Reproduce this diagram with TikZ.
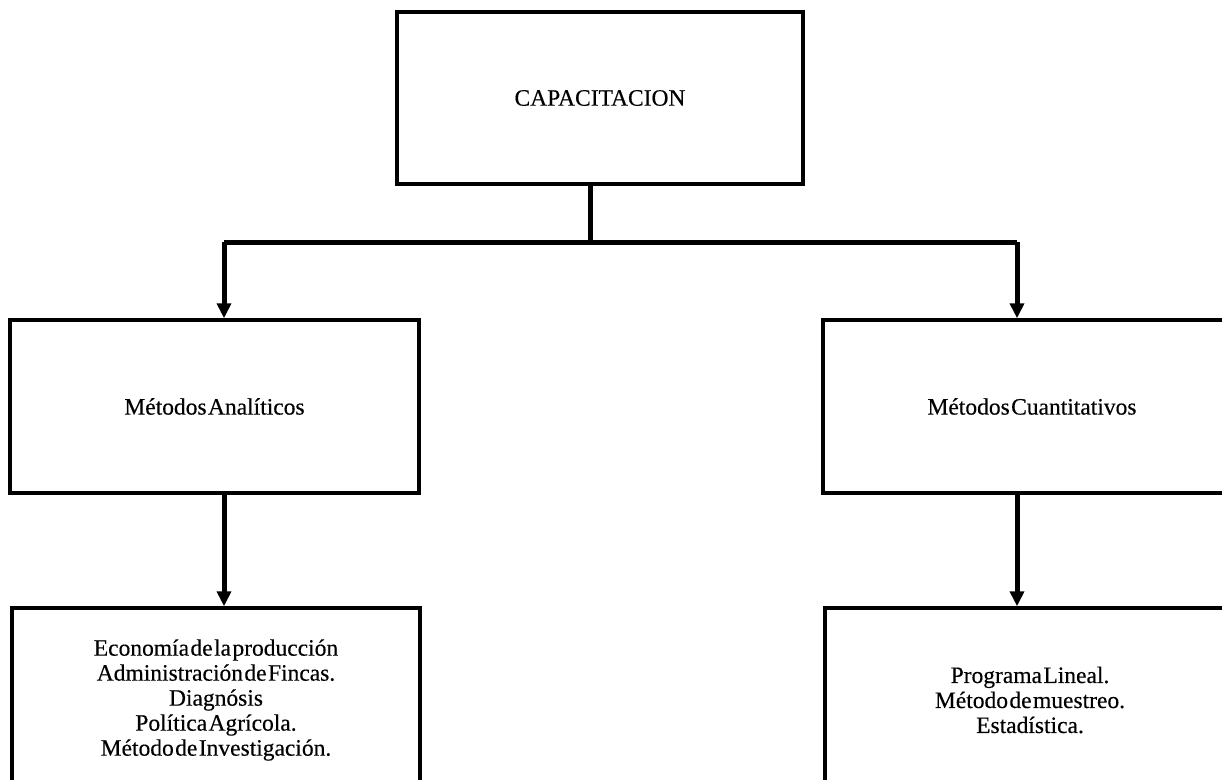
\documentclass[tikz,border=0pt]{standalone}
\usepackage{fontspec}
\setmainfont{Liberation Serif}
\newfontfamily\scanfont[FakeBold=0.35]{Liberation Serif}
\usetikzlibrary{arrows.meta,calc}
\newcommand{\boxfont}{\scanfont\fontsize{23.5}{25}\selectfont\spaceskip=0.06em plus 0pt\relax}
\begin{document}
\begin{tikzpicture}[x=1pt,y=1pt,
  box/.style={draw, line width=3.5pt, rectangle, inner sep=0pt,
    font=\boxfont, align=center},
  conn/.style={line width=5pt},
  arr/.style={line width=5pt, -{Triangle[length=15pt,width=14pt]}}]
\useasboundingbox (0,0) rectangle (1222,-779);
\clip (0,0) rectangle (1222,-779);
\node[box, minimum width=406pt, minimum height=172pt] (cap) at (600,-98) {CAPACITACION};
\node[box, minimum width=409pt, minimum height=173pt] (ma) at (214.5,-406.5) {Métodos Analíticos};
\node[box, minimum width=418pt, minimum height=173pt] (mc) at (1032,-406.5) {Métodos Cuantitativos};
\node[box, minimum width=408pt, minimum height=184pt] (ea) at (216,-700)
  {Economía de la producción\\Administración de Fincas.\\Diagnósis\\Política Agrícola.\\Método de Investigación.};
\node[box, minimum width=410pt, minimum height=184pt] (ec) at (1030,-700)
  {Programa Lineal.\\Método de muestreo.\\Estadística.};
\coordinate (j) at (590,-242);
\coordinate (la) at (224,-242);
\coordinate (ra) at (1017,-242);
\draw[conn] (cap.south -| j) -- (j);
\draw[conn] (la) -- (ra);
\draw[arr] (la) -- (la |- ma.north);
\draw[arr] (ra) -- (ra |- mc.north);
\draw[arr] (la |- ma.south) -- (la |- ea.north);
\draw[arr] (ra |- mc.south) -- (ra |- ec.north);
\end{tikzpicture}
\end{document}
